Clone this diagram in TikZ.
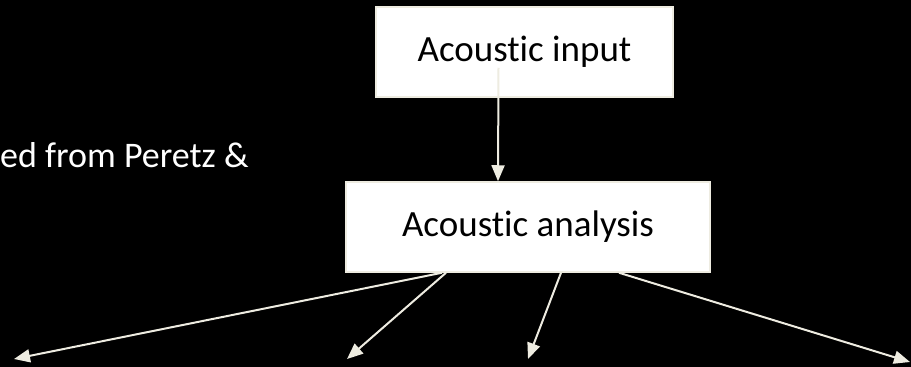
\documentclass[tikz,border=0pt]{standalone}
\usepackage{fontspec}
\setmainfont{Carlito}[Ligatures=NoCommon]
\usetikzlibrary{arrows.meta}
\definecolor{cream}{HTML}{EEECE1}
\tikzset{
    stagebox/.style={draw=cream, line width=1.5pt, fill=white, text=black, font=\fontsize{37}{42}\selectfont},
    flow/.style={draw=cream, line width=2pt, -{Triangle[length=16pt,width=13pt]}}
}
\begin{document}
\begin{tikzpicture}[x=1pt, y=-1pt]
    % Background
    \fill[black] (0,0) rectangle (911,367);
    \useasboundingbox (0,0) rectangle (911,367);

    % Caption fragment
    \node[anchor=base west, inner sep=0pt, text=white, font=\fontsize{36}{40}\selectfont] (source) at (0,167) {ed from Peretz \&};

    % Stages
    \node[stagebox, minimum width=297pt, minimum height=90pt] (input) at (524.5,52) {Acoustic input};
    \node[stagebox, minimum width=364pt, minimum height=90pt] (analysis) at (528,227) {Acoustic analysis};

    % Free ends of the branches
    \coordinate (out1) at (14,359);
    \coordinate (out2) at (347,359);
    \coordinate (out3) at (528,359);
    \coordinate (out4) at (910,362);

    % Connectors
    \draw[flow] ([xshift=-26pt, yshift=30pt]input.south) -- ([xshift=-30pt]analysis.north);
    \draw[flow] ([xshift=-86pt]analysis.south) -- (out1);
    \draw[flow] ([xshift=-82pt]analysis.south) -- (out2);
    \draw[flow] ([xshift=33pt]analysis.south) -- (out3);
    \draw[flow] ([xshift=91pt]analysis.south) -- (out4);
\end{tikzpicture}
\end{document}
